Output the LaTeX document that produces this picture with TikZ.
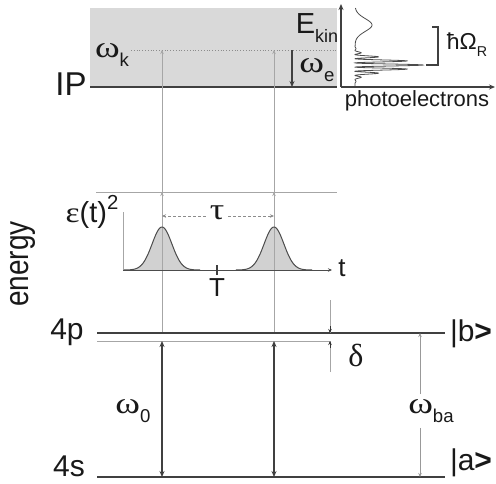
\documentclass[tikz,border=0pt]{standalone}
\usepackage{fontspec}
\setmainfont{Liberation Sans}
\newfontfamily\grk{Liberation Serif}
\usetikzlibrary{arrows.meta}
\newcommand\mysb[1]{\raisebox{-0.3em}{\scalebox{0.62}{#1}}}
\newcommand\fsz[1]{\fontsize{#1}{#1}\selectfont}
\newcommand\omg{{\grk\scalebox{1.25}[1]{ω}}}
\begin{document}
\begin{tikzpicture}[x=1pt,y=-1pt,
  dk/.style={draw=black!75, line width=1.8pt},
  dkthin/.style={draw=black!75, line width=1.1pt},
  lt/.style={draw=black!35, line width=0.9pt},
  tip/.style={-{Stealth[length=6pt,width=5pt]}},
  smalltip/.style={-{Stealth[length=4pt,width=3.5pt]}},
  lbl/.style={inner sep=0pt, text=black!90},
]
\useasboundingbox (0,0) rectangle (496,483);

% ionisation continuum
\fill[black!15] (90,8) rectangle (337,87);
\coordinate (ipL) at (90,87);
\coordinate (ipR) at (337,87);
\draw[dk] (ipL) -- (ipR);
\coordinate (dotL) at (131,50);
\coordinate (dotR) at (337,50);
\draw[draw=black!45, line width=0.8pt, dotted] (dotL) -- (dotR);
\node[lbl, font=\fsz{33}] (IP) at (71,84) {IP};
\node[lbl, font=\fsz{30}] (wk) at (112,55) {\omg\mysb{k}};
\coordinate (weT) at (292,50);
\coordinate (weB) at (292,87);
\draw[dkthin, tip] (weT) -- (weB);
\node[lbl, font=\fsz{30}] (we) at (317,70) {\omg\mysb{e}};
\node[lbl, font=\fsz{29}] (Ekin) at (317,28) {E\mysb{kin}};

% photoelectron spectrum
\coordinate (pO) at (341,87);
\coordinate (pY) at (341,4);
\coordinate (pX) at (495,87);
\draw[dkthin, tip] (pO) -- (pY);
\draw[dkthin, tip] (pO) -- (pX);
\draw[draw=black!70, line width=0.8pt] plot[domain=8:86, samples=700]
  ({355+17*exp(-((\x-25)/9)*((\x-25)/9))+68*exp(-((\x-65)/8)*((\x-65)/8))*(0.5+0.5*cos(86*(\x-65)))}, \x);
\coordinate (brT) at (432,27);
\coordinate (brB) at (426,65);
\draw[dkthin] (brT) -- (438,27) -- (438,65) -- (brB);
\node[lbl, font=\fsz{23}] (hO) at (467,45) {ħΩ\mysb{R}};
\node[lbl, font=\fsz{22}] (pe) at (417,101) {photoelectrons};

% probe photons
\coordinate (hL) at (96,192);
\coordinate (hR) at (337,192);
\draw[lt] (hL) -- (hR);
\coordinate (a1b) at (162,333);
\coordinate (a1m) at (162,192);
\coordinate (a1t) at (162,50);
\coordinate (a2b) at (274,333);
\coordinate (a2m) at (274,192);
\coordinate (a2t) at (274,50);
\draw[lt, smalltip] (a1b) -- (a1m);
\draw[lt, smalltip] (a1m) -- (a1t);
\draw[lt, smalltip] (a2b) -- (a2m);
\draw[lt, smalltip] (a2m) -- (a2t);

% pulses
\coordinate (tO) at (123,270);
\coordinate (tY) at (123,212);
\coordinate (tX) at (332,270);
\fill[black!18] plot[domain=124:200, samples=80] (\x,{270-43*exp(-((\x-162)/14)*((\x-162)/14))}) -- cycle;
\fill[black!18] plot[domain=236:312, samples=80] (\x,{270-43*exp(-((\x-274)/14)*((\x-274)/14))}) -- cycle;
\draw[lt] (a1b) -- (a1m);
\draw[lt] (a2b) -- (a2m);
\draw[draw=black!35, line width=0.8pt] (tO) -- (tY);
\draw[draw=black!70, line width=1pt] plot[domain=124:200, samples=80] (\x,{270-43*exp(-((\x-162)/14)*((\x-162)/14))});
\draw[draw=black!70, line width=1pt] plot[domain=236:312, samples=80] (\x,{270-43*exp(-((\x-274)/14)*((\x-274)/14))});
\draw[draw=black!70, line width=1pt, smalltip] (tO) -- (tX);
\node[lbl, font=\fsz{26}] (t) at (342,268) {t};
\coordinate (Tt) at (217,265);
\coordinate (Tb) at (217,275);
\draw[dkthin] (Tt) -- (Tb);
\node[lbl, font=\fsz{26}] (T) at (217,288) {T};
\node[lbl, font=\fsz{30}] (tau) at (217,213) {\grk\scalebox{1.2}[1]{τ}};
\coordinate (tauL) at (162,216);
\coordinate (tauR) at (274,216);
\draw[draw=black!45, line width=0.8pt, dash pattern=on 3pt off 2pt, smalltip] (tau.west) ++(-4,3) -- (tauL);
\draw[draw=black!45, line width=0.8pt, dash pattern=on 3pt off 2pt, smalltip] (tau.east) ++(4,3) -- (tauR);
\node[lbl, font=\fsz{29}] (eps) at (92,212) {{\grk\scalebox{1.15}[1]{ε}}(t)\raisebox{0.45em}{\scalebox{0.7}{2}}};

\node[lbl, font=\fsz{28}, rotate=90] (energy) at (23,264) {\scalebox{1}[1.2]{energy}};

% levels
\coordinate (pL) at (97,333);
\coordinate (pR) at (445,333);
\coordinate (sL) at (97,477);
\coordinate (sR) at (445,477);
\coordinate (p2L) at (97,341);
\coordinate (p2R) at (330,341);
\draw[dk] (pL) -- (pR);
\draw[lt] (p2L) -- (p2R);
\draw[dk] (sL) -- (sR);
\node[lbl, font=\fsz{30}] (l4p) at (67,332) {4p};
\node[lbl, font=\fsz{30}] (l4s) at (69,466) {4s};
\node[lbl, font=\fsz{30}] (kb) at (471,334) {|b{\bfseries >}};
\node[lbl, font=\fsz{30}] (ka) at (471,463) {|a{\bfseries >}};

% delta
\coordinate (dT) at (330,300);
\coordinate (dB) at (330,372);
\coordinate (dU) at (330,333);
\coordinate (dD) at (330,341);
\draw[draw=black!35, line width=0.8pt] (dT) -- (dU);
\draw[draw=black!35, line width=0.8pt] (dB) -- (dD);
\draw[draw=black!80, smalltip, line width=0.8pt] (330,326) -- (dU);
\draw[draw=black!80, smalltip, line width=0.8pt] (330,348) -- (dD);
\node[lbl, font=\fsz{32}] (delta) at (356,355) {\grk δ};

% transitions
\coordinate (x1t) at (162,341);
\coordinate (x1b) at (162,477);
\coordinate (x2t) at (274,341);
\coordinate (x2b) at (274,477);
\draw[dkthin, {Stealth[length=6pt,width=5pt]}-{Stealth[length=6pt,width=5pt]}] (x1t) -- (x1b);
\draw[dkthin, {Stealth[length=6pt,width=5pt]}-{Stealth[length=6pt,width=5pt]}] (x2t) -- (x2b);
\node[lbl, font=\fsz{30}] (w0) at (133,411) {\omg\mysb{0}};

\node[lbl, font=\fsz{30}] (wba) at (431,411) {\omg\mysb{ba}};
\coordinate (baT) at (420,333);
\coordinate (baB) at (420,477);
\draw[draw=black!40, line width=0.7pt, smalltip] (wba.north -| baT) ++(0,-5) -- (baT);
\draw[draw=black!40, line width=0.7pt, smalltip] (wba.south -| baB) ++(0,5) -- (baB);
\end{tikzpicture}
\end{document}
